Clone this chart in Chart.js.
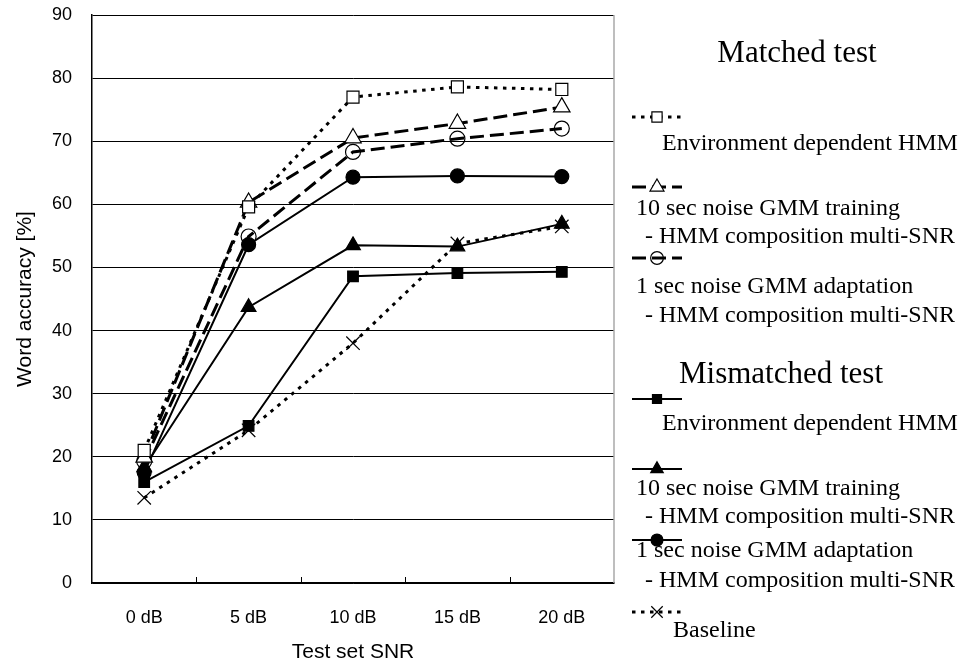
<!DOCTYPE html>
<html>
<head>
<meta charset="utf-8">
<script src="https://cdn.jsdelivr.net/npm/chart.js@4"></script>
<style>
  html, body { margin: 0; padding: 0; background: #fff; }
  #wrap { position: relative; width: 966px; height: 664px; }
</style>
</head>
<body>
<div id="wrap"><canvas id="snr-chart" width="966" height="664"></canvas></div>
<script>
// Test set SNR categories
const snrLabels = ['0 dB', '5 dB', '10 dB', '15 dB', '20 dB'];

// Word accuracy [%] for each system
const matchedEnvHmm = [21.0, 59.6, 77.0, 78.6, 78.2];
const matchedGmmTrain = [19.9, 60.3, 70.5, 72.8, 75.4];
const matchedGmmAdapt = [19.3, 54.9, 68.3, 70.4, 72.0];
const mismatchedEnvHmm = [16.0, 24.9, 48.6, 49.1, 49.3];
const mismatchedGmmTrain = [18.3, 43.7, 53.5, 53.3, 56.9];
const mismatchedGmmAdapt = [17.5, 53.6, 64.3, 64.5, 64.4];
const baseline = [13.5, 24.2, 38.0, 53.8, 56.5];

const dotted = [3.5, 5.5];
const longDash = [14, 6];

const mkSet = (data, dash, width, style, radius, fill) => ({
  data: data,
  borderColor: '#000',
  borderWidth: width,
  borderDash: dash,
  pointStyle: style,
  pointRadius: radius,
  pointHoverRadius: radius,
  pointBackgroundColor: fill,
  pointBorderColor: '#000',
  pointBorderWidth: 1.2,
  tension: 0,
  fill: false
});

const datasets = [
  mkSet(matchedEnvHmm, dotted, 3, 'rect', 8.5, '#fff'),
  mkSet(matchedGmmTrain, longDash, 3, 'triangle', 9.5, '#fff'),
  mkSet(matchedGmmAdapt, longDash, 3, 'circle', 7.5, 'rgba(0,0,0,0)'),
  mkSet(mismatchedEnvHmm, [], 2, 'rect', 7.5, '#000'),
  mkSet(mismatchedGmmTrain, [], 2, 'triangle', 8.5, '#000'),
  mkSet(mismatchedGmmAdapt, [], 2, 'circle', 7, '#000'),
  mkSet(baseline, dotted, 3, 'crossRot', 9.5, '#000')
];

// Legend rows: [dataset index, sample line y, text lines [x, baseline]]
const serif = '"Liberation Serif", "Times New Roman", serif';
const legendHeads = [
  ['Matched test', 797, 62],
  ['Mismatched test', 781, 383]
];
const legendRows = [
  [0, 117, [['Environment dependent HMM', 662, 150]]],
  [1, 187, [['10 sec noise GMM training', 636, 215], ['- HMM composition multi-SNR', 645, 243]]],
  [2, 258, [['1 sec noise GMM adaptation', 636, 293], ['- HMM composition multi-SNR', 645, 322]]],
  [3, 399, [['Environment dependent HMM', 662, 430]]],
  [4, 469, [['10 sec noise GMM training', 636, 495], ['- HMM composition multi-SNR', 645, 523]]],
  [5, 540, [['1 sec noise GMM adaptation', 636, 557], ['- HMM composition multi-SNR', 645, 587]]],
  [6, 612, [['Baseline', 673, 637]]]
];

// Frame details, inner x ticks and the side legend
const framePlugin = {
  id: 'frame',
  afterDraw(chart) {
    const ctx = chart.ctx;
    const area = chart.chartArea;
    const x = chart.scales.x;
    ctx.save();
    // right border is lighter than the others
    ctx.strokeStyle = '#a8a8a8';
    ctx.lineWidth = 1.5;
    ctx.beginPath();
    ctx.moveTo(area.right, area.top);
    ctx.lineTo(area.right, area.bottom);
    ctx.stroke();
    // ticks between categories, pointing up into the plot
    ctx.strokeStyle = '#000';
    ctx.lineWidth = 1;
    for (let i = 1; i < snrLabels.length; i++) {
      const px = Math.round((x.getPixelForTick(i - 1) + x.getPixelForTick(i)) / 2) + 0.5;
      ctx.beginPath();
      ctx.moveTo(px, area.bottom);
      ctx.lineTo(px, area.bottom - 6);
      ctx.stroke();
    }

    // legend
    ctx.fillStyle = '#000';
    ctx.textBaseline = 'alphabetic';
    ctx.textAlign = 'center';
    ctx.font = '31px ' + serif;
    legendHeads.forEach(h => ctx.fillText(h[0], h[1], h[2]));
    ctx.textAlign = 'left';
    ctx.font = '24px ' + serif;
    legendRows.forEach(row => {
      const ds = chart.data.datasets[row[0]];
      const y = row[1];
      ctx.save();
      ctx.strokeStyle = '#000';
      ctx.lineWidth = ds.borderWidth;
      ctx.setLineDash(ds.borderDash);
      ctx.beginPath();
      ctx.moveTo(632, y);
      ctx.lineTo(682, y);
      ctx.stroke();
      ctx.setLineDash([]);
      ctx.fillStyle = ds.pointBackgroundColor;
      ctx.strokeStyle = '#000';
      ctx.lineWidth = ds.pointBorderWidth;
      Chart.helpers.drawPoint(ctx, {
        pointStyle: ds.pointStyle,
        radius: ds.pointRadius * 0.85,
        rotation: 0,
        borderWidth: ds.pointBorderWidth
      }, 657, y);
      ctx.restore();
      row[2].forEach(t => ctx.fillText(t[0], t[1], t[2]));
    });
    ctx.restore();
  }
};

const sans = '"Liberation Sans", Arial, sans-serif';

new Chart(document.getElementById('snr-chart'), {
  type: 'line',
  data: { labels: snrLabels, datasets: datasets },
  options: {
    responsive: false,
    animation: false,
    layout: { padding: { top: 15, right: 352, left: 0, bottom: 0 } },
    plugins: {
      legend: { display: false },
      tooltip: { enabled: false }
    },
    scales: {
      x: {
        type: 'category',
        offset: true,
        grid: { display: false },
        border: { display: true, color: '#000', width: 1.5 },
        ticks: { color: '#000', font: { family: sans, size: 18 }, padding: 16, maxRotation: 0 },
        title: {
          display: true,
          text: 'Test set SNR',
          color: '#000',
          font: { family: sans, size: 21, lineHeight: 1.1 },
          padding: { top: 0, bottom: 0 }
        },
        afterFit(scale) { scale.height = 81; }
      },
      y: {
        min: 0,
        max: 90,
        ticks: { stepSize: 10, color: '#000', font: { family: sans, size: 18 }, padding: 20 },
        grid: { color: '#000', lineWidth: 1, drawTicks: false },
        border: { display: true, color: '#000', width: 1.5 },
        title: {
          display: true,
          text: 'Word accuracy [%]',
          color: '#000',
          font: { family: sans, size: 21 },
          padding: { top: 13, bottom: 0 }
        },
        afterFit(scale) {
          scale.width = 92;
          scale.paddingTop = 0;
          scale.paddingBottom = 0;
        }
      }
    }
  },
  plugins: [framePlugin]
});
</script>
</body>
</html>
